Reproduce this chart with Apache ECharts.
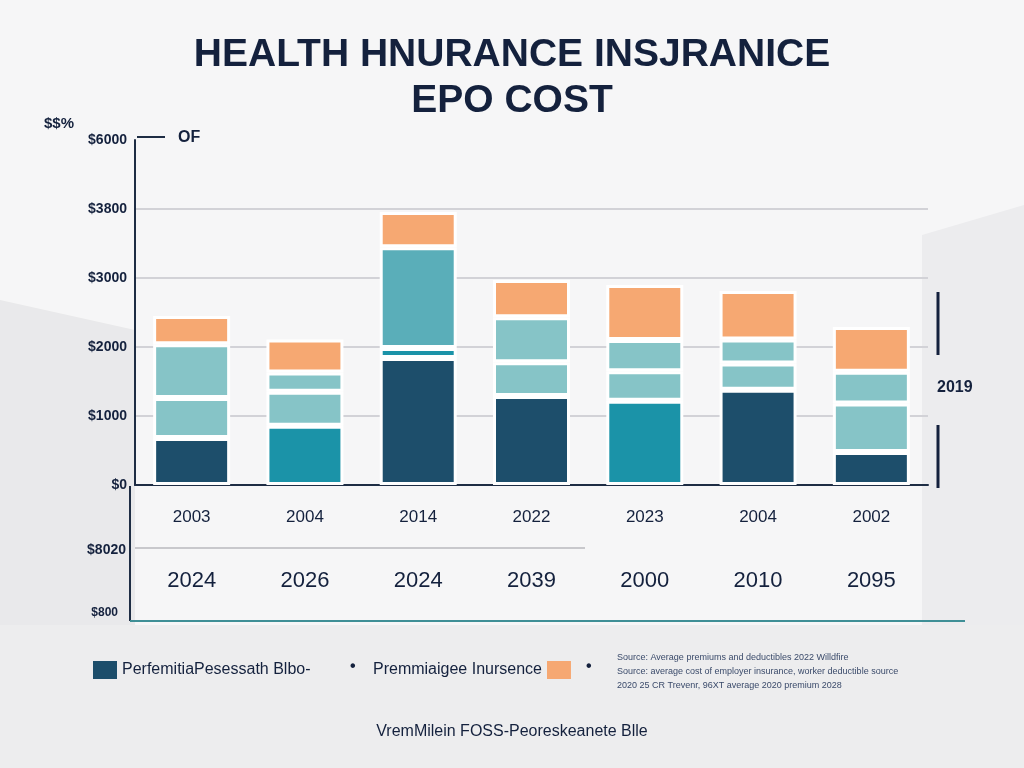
<!DOCTYPE html>
<html><head><meta charset="utf-8">
<script src="https://cdn.jsdelivr.net/npm/echarts@6/dist/echarts.min.js"></script>
<style>html,body{margin:0;padding:0;background:#f5f5f6;}#c{width:1024px;height:768px;}</style>
</head><body><div id="c"></div>
<script>
const yearsTop = ["2003","2004","2014","2022","2023","2004","2002"];
const yearsBottom = ["2024","2026","2024","2039","2000","2010","2095"];
const yTicks = ["$0","$1000","$2000","$3000","$3800","$6000"];
const baseVals  = [680, 860, 1840, 1290, 1220, 1380, 480];
const lowerVals = [580, 490, 145, 490, 430, 380, 700];
const upperVals = [780, 280, 1460, 650, 450, 350, 460];
const topVals   = [410, 480, 510, 540, 800, 700, 650];
const baseColors = ["#1d4e6b","#1b93a8","#1d4e6b","#1d4e6b","#1b93a8","#1d4e6b","#1d4e6b"];
const lowerColors = ["#86c4c7","#86c4c7","#1b93a8","#86c4c7","#86c4c7","#86c4c7","#86c4c7"];
const upperColors = ["#86c4c7","#86c4c7","#5aaeb9","#86c4c7","#86c4c7","#86c4c7","#86c4c7"];
const seriesNames = ["PerfemitiaPesessath Blbo-","Lower","Upper","Premmiaigee Inursence"];

const chart = echarts.init(document.getElementById('c'));
const navy = '#14213d';
function mk(name, vals, colors, color){
  return {
    name, type:'bar', stack:'s', barWidth:77,
    itemStyle:{color: color, borderColor:'#ffffff', borderWidth:3},
    data: vals.map((v,i)=>({value:v, itemStyle: colors ? {color: colors[i]} : undefined}))
  };
}
chart.setOption({
  backgroundColor:'#f6f6f7',
  title:{text:'HEALTH HNURANCE INSJRANICE\nEPO COST', left:'center', top:27,
    textStyle:{fontFamily:'Liberation Sans', fontWeight:'bold', fontSize:39, lineHeight:46, color:navy}},
  legend:[
    {data:[seriesNames[0]], left:88, top:656, itemWidth:24, itemHeight:18, icon:'rect', align:'left',
     itemStyle:{borderWidth:0},
     textStyle:{fontFamily:'Liberation Sans', fontSize:16, color:navy}},
    {data:[seriesNames[3]], left:368, top:656, itemWidth:24, itemHeight:18, icon:'rect', align:'right',
     itemStyle:{borderWidth:0},
     textStyle:{fontFamily:'Liberation Sans', fontSize:16, color:navy}}
  ],
  grid:{left:135, right:96, top:140, bottom:283},
  xAxis:{type:'category', data:yearsTop,
    axisLine:{lineStyle:{color:'#1e2d44', width:2}}, axisTick:{show:false},
    axisLabel:{margin:0, interval:0,
      formatter:(v, i)=>'{a|'+v+'}\n{b|'+yearsBottom[i]+'}',
      rich:{a:{fontFamily:'Liberation Sans', fontSize:17, lineHeight:64, color:navy},
            b:{fontFamily:'Liberation Sans', fontSize:22, lineHeight:64, color:navy}}}},
  yAxis:{type:'value', min:0, max:5000, interval:1000,
    axisLine:{show:true, lineStyle:{color:'#1e2d44', width:2}},
    axisLabel:{formatter:(v)=>yTicks[Math.round(v/1000)], fontFamily:'Liberation Sans', fontWeight:'bold', fontSize:14, color:navy},
    splitLine:{lineStyle:{color:['#d2d2d7','#d2d2d7','#d2d2d7','#d2d2d7','#d2d2d7','rgba(0,0,0,0)'], width:2}}},
  graphic:[
    {type:'polygon', z:-10, shape:{points:[[0,300],[135,330],[135,625],[0,625]]}, style:{fill:'#e9e9eb'}},
    {type:'polygon', z:-10, shape:{points:[[922,235],[1024,205],[1024,625],[922,625]]}, style:{fill:'#ececee'}},
    {type:'rect', z:-10, shape:{x:0,y:625,width:1024,height:143}, style:{fill:'#ededee'}},
    {type:'line', shape:{x1:137,y1:137,x2:165,y2:137}, style:{stroke:'#1e2d44', lineWidth:2}},
    {type:'text', left:178, top:130, style:{text:'OF', font:'bold 16px "Liberation Sans"', fill:navy}},
    {type:'text', left:44, top:116, style:{text:'$$%', font:'bold 15px "Liberation Sans"', fill:navy}},
    {type:'line', shape:{x1:130,y1:486,x2:130,y2:621}, style:{stroke:'#1e2d44', lineWidth:2}},
    {type:'line', shape:{x1:130,y1:621,x2:965,y2:621}, style:{stroke:'#3f8f96', lineWidth:2}},
    {type:'line', shape:{x1:135,y1:548,x2:585,y2:548}, style:{stroke:'#c8c8cc', lineWidth:2}},
    {type:'text', right:898, top:543, style:{text:'$8020', font:'bold 14px "Liberation Sans"', fill:navy, align:'right'}},
    {type:'text', right:906, top:607, style:{text:'$800', font:'bold 12px "Liberation Sans"', fill:navy, align:'right'}},
    {type:'line', shape:{x1:938,y1:292,x2:938,y2:355}, style:{stroke:'#14213d', lineWidth:3}},
    {type:'line', shape:{x1:938,y1:425,x2:938,y2:488}, style:{stroke:'#14213d', lineWidth:3}},
    {type:'text', left:937, top:380, style:{text:'2019', font:'bold 16px "Liberation Sans"', fill:navy}},
    {type:'text', left:350, top:659, style:{text:'•', font:'bold 16px "Liberation Sans"', fill:navy}},
    {type:'text', left:586, top:659, style:{text:'•', font:'bold 16px "Liberation Sans"', fill:navy}},
    {type:'text', left:617, top:651, style:{text:'Source: Average premiums and deductibles 2022 Willdfire\nSource: average cost of employer insurance, worker deductible source\n2020 25 CR Trevenr, 96XT average 2020 premium 2028', font:'9px "Liberation Sans"', fill:'#3a4a6a', lineHeight:14}},
    {type:'text', left:'center', top:724, style:{text:'VremMilein FOSS-Peoreskeanete Blle', font:'16px "Liberation Sans"', fill:navy}}
  ],
  series:[
    mk(seriesNames[0], baseVals, baseColors, '#1d4e6b'),
    mk(seriesNames[1], lowerVals, lowerColors, '#86c4c7'),
    mk(seriesNames[2], upperVals, upperColors, '#86c4c7'),
    mk(seriesNames[3], topVals, null, '#f6a872')
  ]
});
</script></body></html>
